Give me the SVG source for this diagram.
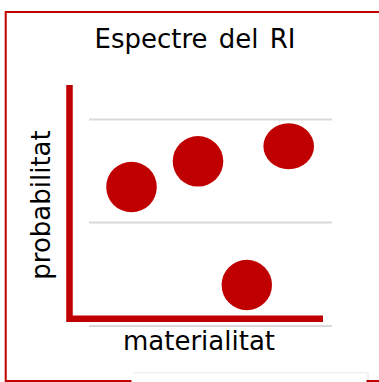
<svg xmlns="http://www.w3.org/2000/svg" width="379" height="382" viewBox="0 0 379 382">
<style>
.lbl{font-family:"DejaVu Sans","Liberation Sans",sans-serif;font-size:26px;fill:#000}
.grid{stroke:#d9d9d9;stroke-width:2;fill:none}
.dot{fill:#c00000}
</style>
<rect width="379" height="382" fill="#fff"/>
<rect id="frame" x="5.7" y="12" width="400" height="369" fill="none" stroke="#c00000" stroke-width="2"/>
<g id="gridlines">
<line class="grid" x1="89" y1="119.5" x2="332" y2="119.5"/>
<line class="grid" x1="89" y1="222.5" x2="332" y2="222.5"/>
<line class="grid" x1="89" y1="326" x2="332" y2="326"/>
</g>
<g id="axes">
<path d="M69.5 85 V318.8 H323" fill="none" stroke="#c00000" stroke-width="6.5" stroke-linejoin="miter"/>
</g>
<g id="title"><text class="lbl" x="195" y="48" text-anchor="middle" word-spacing="3">Espectre del RI</text></g>
<g id="xlabel"><text class="lbl" x="199" y="350" text-anchor="middle">materialitat</text></g>
<g id="ylabel"><text class="lbl" transform="translate(50,205) rotate(-90)" text-anchor="middle">probabilitat</text></g>
<g id="p1"><circle class="dot" cx="131.5" cy="187" r="25.3"/></g>
<g id="p2"><circle class="dot" cx="198" cy="161.3" r="25.3"/></g>
<g id="p3"><ellipse class="dot" cx="288.7" cy="146.3" rx="25.3" ry="23"/></g>
<g id="p4"><circle class="dot" cx="246.8" cy="285" r="25.2"/></g>
<g id="box">
<rect x="133" y="372" width="236" height="12" fill="#000" opacity="0.06"/>
<rect x="131.5" y="373.5" width="235" height="12" fill="#fff"/>
</g>
</svg>
